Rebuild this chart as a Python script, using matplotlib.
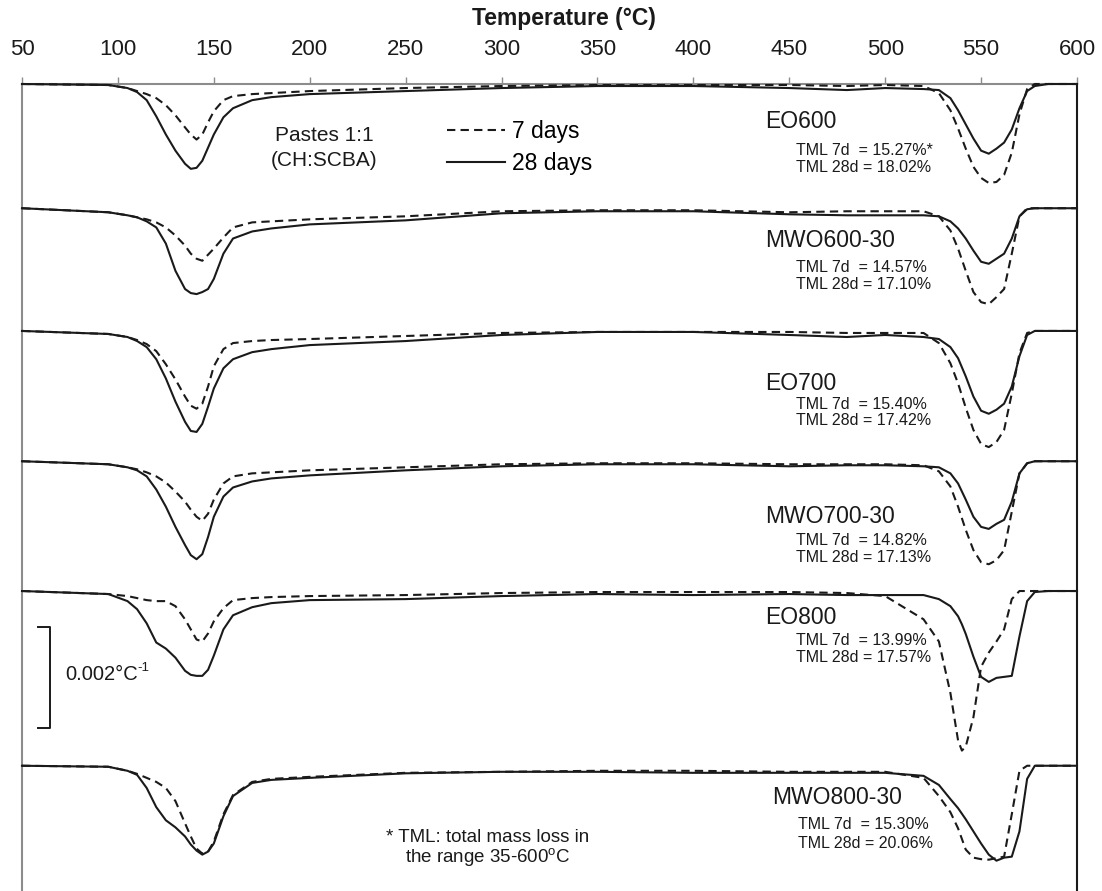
import matplotlib

matplotlib.use("Agg")
import matplotlib.pyplot as plt

plt.rcParams["font.family"] = ["Liberation Sans", "DejaVu Sans"]
plt.rcParams["mathtext.default"] = "regular"

# temperature grid (°C) shared by all DTG curves
temps = [50, 95, 105, 110, 115, 120, 125, 130, 135, 138, 141, 144, 147, 150, 155, 160, 170, 180, 200,
         250, 300, 350, 400, 450, 480, 500, 520,
         528, 534, 538, 540, 542, 546, 550, 554, 558, 562, 566, 570, 574, 578, 585, 600]

# DTG values, 10^-4 °C^-1
eo600_7d = [0, -0.2, -0.8, -1.4, -2, -2.8, -4.2, -6.2, -8.6, -10, -11, -10, -7.6, -5.4, -3.2, -2.4, -2, -1.8, -1.4,
            -0.8, -0.4, -0.2, -0.2, -0.2, -0.4, -0.2, -0.4,
            -1.8, -5.2, -8.8, -10.8, -12.8, -16.4, -18.6, -19.6, -19.4, -18, -13.6, -6, -1, 0, 0, 0]
eo600_28d = [0, -0.2, -0.8, -1.6, -3.2, -6.4, -10, -13.2, -15.8, -16.8, -16.6, -15.2, -12.6, -10, -6.6, -4.8, -3.2, -2.6, -2,
             -1.4, -0.8, -0.4, -0.4, -0.8, -1.2, -0.8, -1,
             -1.2, -2.8, -5.2, -6.6, -8, -10.8, -13.2, -13.8, -12.8, -11.6, -9, -4.8, -1.4, -0.4, 0, 0]

mwo600_7d = [0, -0.8, -1.4, -1.8, -2.2, -2.8, -3.8, -5.4, -7.4, -9, -10, -10.4, -9.2, -8, -5.8, -3.8, -2.8, -2.6, -2.2,
             -1.6, -0.6, -0.4, -0.4, -0.8, -0.6, -0.6, -0.6,
             -1.6, -4.4, -8, -10.2, -12.4, -16.6, -18.6, -19, -17.6, -16, -9, -1.6, 0, 0, 0, 0]
mwo600_28d = [0, -0.8, -1.4, -1.8, -2.6, -3.8, -7, -12.4, -16, -16.8, -17, -16.6, -16, -14, -9, -6, -4.6, -4, -3.2,
              -2.4, -1, -0.6, -0.6, -1.2, -1.4, -1.4, -1.4,
              -1.6, -2.6, -4, -5, -6, -8.4, -10.6, -11, -10, -9, -6, -1.6, -0.2, 0, 0, 0]

eo700_7d = [0, -0.6, -1.2, -1.8, -2.6, -4, -6.6, -9.6, -13, -14.8, -15.4, -14.4, -11, -7, -3.6, -2.4, -2, -1.8, -1.6,
            -1, -0.4, -0.2, -0.2, -0.2, -0.4, -0.4, -0.4,
            -2.4, -6.4, -10.4, -12.8, -15.2, -19.6, -22.4, -23, -22, -19.6, -12.4, -4.4, -0.4, 0, 0, 0]
eo700_28d = [0, -0.6, -1.2, -2, -3.2, -5.6, -9.4, -14, -18, -19.8, -20, -18.4, -15, -11.4, -7.4, -5.6, -4.2, -3.6, -2.8,
             -2, -0.8, -0.2, -0.2, -0.8, -1.2, -0.8, -1.2,
             -1.6, -3.2, -5.4, -7.2, -9, -13, -15.8, -16.4, -15.6, -14.4, -11, -5, -0.8, 0, 0, 0]

mwo700_7d = [0, -0.6, -1.2, -1.6, -2.2, -3, -4.2, -6, -8, -9.6, -11, -11.8, -10.4, -7.6, -4.4, -3, -2.4, -2.2, -1.8,
             -1.2, -0.6, -0.4, -0.4, -0.6, -0.6, -0.6, -0.8,
             -2, -5, -9, -11.3, -13.6, -17.6, -20, -20.4, -19.6, -17.6, -10, -2.4, -0.4, 0, 0, 0]
mwo700_28d = [0, -0.6, -1.2, -1.8, -3, -5.6, -9, -13, -16.6, -18.6, -19.4, -18.4, -15, -11, -7, -5.2, -4, -3.4, -2.8,
              -1.8, -1, -0.6, -0.6, -1, -0.8, -0.8, -1,
              -1.2, -2.4, -4.4, -6, -7.6, -11, -13, -13.4, -12.4, -11.6, -8, -2.4, -0.4, 0, 0, 0]

eo800_7d = [0, -0.6, -1, -1.4, -1.8, -2, -2, -3, -5.6, -7.6, -9.6, -10, -8.4, -6, -3.4, -1.8, -1.4, -1.2, -1,
            -0.8, -0.4, -0.2, -0.2, -0.2, -0.4, -1, -5.6,
            -10, -20.2, -29.6, -31.6, -30.8, -25, -15, -12.2, -10, -7.6, -1.6, 0, 0, 0, 0, 0]
eo800_28d = [0, -0.6, -2, -3.6, -6.4, -10.2, -11.4, -13.2, -15.8, -16.6, -16.8, -16.8, -15.6, -12.8, -7.6, -4.8, -3.2, -2.4, -1.8,
             -1.6, -1, -0.6, -0.8, -0.6, -0.8, -0.8, -0.8,
             -1.6, -3, -5, -6.6, -8.5, -13, -17, -18, -17.2, -17, -16.8, -9, -2, -0.2, 0, 0]

mwo800_7d = [0, -0.2, -1, -1.6, -2.4, -3.2, -4.4, -7, -11.4, -14, -16.4, -17.4, -17, -15, -9.6, -5.8, -3.2, -2.6, -2.2,
             -1.4, -1.2, -1, -1, -1.2, -1.2, -1.2, -2.4,
             -6, -9.2, -12.4, -14.5, -16.6, -18.2, -18.5, -18.6, -18.3, -18, -9.6, -1, 0, 0, 0, 0]
mwo800_28d = [0, -0.2, -1, -1.8, -4.4, -8.2, -10.8, -12.2, -14, -15.6, -16.8, -17.6, -17, -15.4, -10, -6, -3.4, -2.8, -2.4,
              -1.5, -1.2, -1.2, -1.4, -1.4, -1.4, -1.4, -2,
              -3.8, -6.6, -8.4, -9.5, -10.6, -13, -15.4, -17.6, -18.8, -18.2, -18, -13, -2.6, 0, 0, 0]

samples = ["EO600", "MWO600-30", "EO700", "MWO700-30", "EO800", "MWO800-30"]
tml_7d = ["15.27%*", "14.57%", "15.40%", "14.82%", "13.99%", "15.30%"]
tml_28d = ["18.02%", "17.10%", "17.42%", "17.13%", "17.57%", "20.06%"]

curves_7d = [eo600_7d, mwo600_7d, eo700_7d, mwo700_7d, eo800_7d, mwo800_7d]
curves_28d = [eo600_28d, mwo600_28d, eo700_28d, mwo700_28d, eo800_28d, mwo800_28d]

# vertical shift of each pair of curves
offsets = [0, -24.6, -48.9, -74.7, -100.4, -135.0]
# text placement per row: x of name, x of TML lines, y of name, y of the two TML lines
label_pos = [(437.4, 453.5, -7.5, -13.1, -16.5),
             (437.4, 453.5, -30.9, -36.4, -39.8),
             (437.4, 453.5, -59.4, -63.4, -66.7),
             (437.4, 453.5, -85.7, -90.3, -93.7),
             (437.4, 453.5, -105.7, -110.1, -113.5),
             (441.0, 454.6, -141.2, -146.7, -150.3)]

ink = "#1a1a1a"
dash = (0, (4, 2.5))

fig = plt.figure(figsize=(11.02, 8.91), dpi=100)
ax = fig.add_axes([22 / 1102, 0, 1055 / 1102, 807 / 891])

lines_7d, lines_28d = [], []
for i in range(len(samples)):
    off = offsets[i]
    l28, = ax.plot(temps, [v + off for v in curves_28d[i]], color=ink, lw=1.5,
                   clip_on=False, zorder=3)
    l7, = ax.plot(temps, [v + off for v in curves_7d[i]], color=ink, lw=1.5, ls=dash,
                  clip_on=False, zorder=3)
    lines_7d.append(l7)
    lines_28d.append(l28)

    xn, xt, yn, y7, y28 = label_pos[i]
    ax.text(xn, yn, samples[i], ha="left", va="center", fontsize=16.5, color=ink)
    ax.text(xt, y7, "TML 7d  = " + tml_7d[i], ha="left", va="center", fontsize=11.5, color=ink)
    ax.text(xt, y28, "TML 28d = " + tml_28d[i], ha="left", va="center", fontsize=11.5, color=ink)

ax.set_xlim(50, 600)
ax.set_ylim(-807 / 5.05, 0)
ax.xaxis.tick_top()
ax.set_xticks(range(50, 601, 50))
ax.tick_params(axis="x", direction="out", length=5, width=1, colors="#8c8c8c",
               labelcolor=ink, labelsize=16, pad=12)
ax.set_yticks([])
fig.text(564 / 1102, 1 - 18 / 891, "Temperature (°C)", ha="center", va="center",
         fontsize=16.5, fontweight="bold", color=ink)

ax.spines["bottom"].set_visible(False)
ax.spines["top"].set_color("#8c8c8c")
ax.spines["left"].set_color("#8c8c8c")
ax.spines["right"].set_color(ink)
for s in ["top", "left", "right"]:
    ax.spines[s].set_linewidth(1.5)

# sample description and legend
ax.text(207.5, -10.1, "Pastes 1:1", ha="center", va="center", fontsize=15, color=ink)
ax.text(207.5, -15.1, "(CH:SCBA)", ha="center", va="center", fontsize=15, color=ink)
ax.legend([lines_7d[0], lines_28d[0]], ["7 days", "28 days"], loc="upper left",
          bbox_to_anchor=(0.4028, 0.955), frameon=False, fontsize=16.5, handlelength=2.55,
          handletextpad=0.3, labelspacing=0.38, borderpad=0, borderaxespad=0)

# scale bar 0.002 °C^-1 = 20 units
ax.plot([58.3, 64.6, 64.6, 58.3], [-107.5, -107.5, -127.5, -127.5], color=ink, lw=1.4)
unit = ax.text(72.4, -117, "0.002°C", ha="left", va="center", fontsize=14.5, color=ink)
ax.annotate("-1", xy=(1, 0.85), xycoords=unit, ha="left", va="center", fontsize=9.5, color=ink)

ax.text(293, -149.3, "* TML: total mass loss in", ha="center", va="center", fontsize=13.5, color=ink)
ax.text(293, -153.1, "the range 35-600$^{o}$C", ha="center", va="center", fontsize=13.5, color=ink)

fig.savefig("out.png", dpi=100)
